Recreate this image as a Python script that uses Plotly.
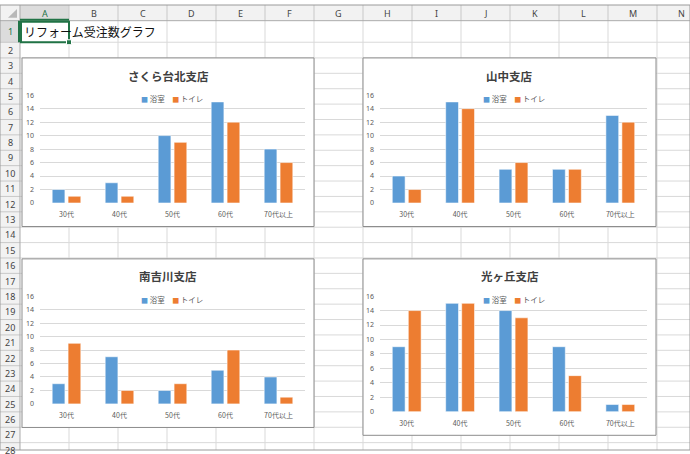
import plotly.graph_objects as go

# ---------------- data ----------------
sheet_title = "リフォーム受注数グラフ"
categories = ["30代", "40代", "50代", "60代", "70代以上"]
series_names = ["浴室", "トイレ"]
branch_names = ["さくら台北支店", "山中支店", "南吉川支店", "光ヶ丘支店"]

sakura_bath = [2, 3, 10, 15, 8]
sakura_toilet = [1, 1, 9, 12, 6]
yamanaka_bath = [4, 15, 5, 5, 13]
yamanaka_toilet = [2, 14, 6, 5, 12]
minami_bath = [3, 7, 2, 5, 4]
minami_toilet = [9, 2, 3, 8, 1]
hikari_bath = [9, 15, 14, 9, 1]
hikari_toilet = [14, 15, 13, 5, 1]

y_tick_values = [0, 2, 4, 6, 8, 10, 12, 14, 16]
column_letters = ["A", "B", "C", "D", "E", "F", "G", "H", "I", "J", "K", "L", "M", "N"]
row_numbers = list(range(1, 29))

# ---------------- styling / geometry ----------------
W, H = 690, 454
BLUE = "#5B9BD5"
ORANGE = "#ED7D31"
FONT = "Noto Sans CJK JP, Noto Sans, sans-serif"


def px(x):
    return x / W


def py(y):
    return 1 - y / H


# chart boxes (pixel): outer box, plot area, title y, legend y
chart_geo = [
    dict(box=(22, 54, 314, 226), plot=(40, 92, 305, 202), ty=72, ly=95),
    dict(box=(363, 54, 656, 226), plot=(380, 92, 647, 202), ty=72, ly=95),
    dict(box=(22, 259, 314, 431), plot=(40, 297, 305, 407), ty=276, ly=300),
    dict(box=(363, 259, 656, 439), plot=(380, 297, 647, 415), ty=276, ly=300),
]
series_by_chart = [
    (sakura_bath, sakura_toilet),
    (yamanaka_bath, yamanaka_toilet),
    (minami_bath, minami_toilet),
    (hikari_bath, hikari_toilet),
]

# spreadsheet grid geometry
HEADER_H = 16
ROWHDR_W = 20
COL_W = 49
row_edges = [HEADER_H, 38, 54]
while row_edges[-1] < H + 20:
    row_edges.append(row_edges[-1] + 15.7)
col_edges = [ROWHDR_W + COL_W * i for i in range(len(column_letters) + 1)]

fig = go.Figure()
shapes = []
annotations = []

# background of headers
shapes.append(dict(type="rect", xref="paper", yref="paper", layer="below",
                   x0=0, x1=1, y0=py(HEADER_H), y1=1, fillcolor="#F2F2F2", line_width=0))
shapes.append(dict(type="rect", xref="paper", yref="paper", layer="below",
                   x0=0, x1=px(ROWHDR_W), y0=0, y1=1, fillcolor="#F2F2F2", line_width=0))
# highlighted headers for A / 1
shapes.append(dict(type="rect", xref="paper", yref="paper", layer="below",
                   x0=px(col_edges[0]), x1=px(col_edges[1]), y0=py(HEADER_H), y1=1,
                   fillcolor="#DCDCDC", line_width=0))
shapes.append(dict(type="rect", xref="paper", yref="paper", layer="below",
                   x0=0, x1=px(ROWHDR_W), y0=py(row_edges[1]), y1=py(row_edges[0]),
                   fillcolor="#DCDCDC", line_width=0))

# cell grid lines
for x in col_edges[1:]:
    shapes.append(dict(type="line", xref="paper", yref="paper", layer="below",
                       x0=px(x), x1=px(x), y0=0, y1=py(HEADER_H),
                       line=dict(color="#D9D9D9", width=1)))
    shapes.append(dict(type="line", xref="paper", yref="paper", layer="below",
                       x0=px(x), x1=px(x), y0=py(HEADER_H), y1=1,
                       line=dict(color="#C8C8C8", width=1)))
for y in row_edges[1:]:
    shapes.append(dict(type="line", xref="paper", yref="paper", layer="below",
                       x0=px(ROWHDR_W), x1=1, y0=py(y), y1=py(y),
                       line=dict(color="#D9D9D9", width=1)))
    shapes.append(dict(type="line", xref="paper", yref="paper", layer="below",
                       x0=0, x1=px(ROWHDR_W), y0=py(y), y1=py(y),
                       line=dict(color="#C8C8C8", width=1)))
# header borders
shapes.append(dict(type="line", xref="paper", yref="paper", layer="below",
                   x0=0, x1=1, y0=py(HEADER_H), y1=py(HEADER_H),
                   line=dict(color="#ABABAB", width=1)))
shapes.append(dict(type="line", xref="paper", yref="paper", layer="below",
                   x0=px(ROWHDR_W), x1=px(ROWHDR_W), y0=0, y1=1,
                   line=dict(color="#ABABAB", width=1)))
# green accents for selected header
shapes.append(dict(type="line", xref="paper", yref="paper", layer="below",
                   x0=px(col_edges[0]), x1=px(col_edges[1]), y0=py(HEADER_H - 1), y1=py(HEADER_H - 1),
                   line=dict(color="#217346", width=2)))
shapes.append(dict(type="line", xref="paper", yref="paper", layer="below",
                   x0=px(ROWHDR_W - 1), x1=px(ROWHDR_W - 1), y0=py(row_edges[1]), y1=py(row_edges[0]),
                   line=dict(color="#217346", width=2)))
# corner triangle
shapes.append(dict(type="path", xref="paper", yref="paper", layer="below",
                   path=f"M {px(17)},{py(4)} L {px(17)},{py(13)} L {px(8)},{py(13)} Z",
                   fillcolor="#B8B8B8", line_width=0))

# selection rectangle around A1
shapes.append(dict(type="rect", xref="paper", yref="paper", layer="below",
                   x0=px(col_edges[0] + 1), x1=px(col_edges[1]), y0=py(row_edges[1]), y1=py(row_edges[0] + 1),
                   fillcolor="rgba(0,0,0,0)", line=dict(color="#217346", width=2)))
shapes.append(dict(type="rect", xref="paper", yref="paper", layer="below",
                   x0=px(col_edges[1] - 2.5), x1=px(col_edges[1] + 2.5),
                   y0=py(row_edges[1] + 2.5), y1=py(row_edges[1] - 2.5),
                   fillcolor="#217346", line=dict(color="#FFFFFF", width=1)))

# chart boxes
for g in chart_geo:
    x0, y0, x1, y1 = g["box"]
    shapes.append(dict(type="rect", xref="paper", yref="paper", layer="below",
                       x0=px(x0), x1=px(x1), y0=py(y1), y1=py(y0),
                       fillcolor="#FFFFFF", line=dict(color="#8C8C8C", width=1)))

# outer frame
shapes.append(dict(type="rect", xref="paper", yref="paper", layer="above",
                   x0=0, x1=1, y0=0, y1=1, fillcolor="rgba(0,0,0,0)",
                   line=dict(color="#9A9A9A", width=1)))

# header text
for i, letter in enumerate(column_letters):
    cx = (col_edges[i] + col_edges[i + 1]) / 2
    annotations.append(dict(xref="paper", yref="paper", x=px(cx), y=py(8.5), text=letter,
                            showarrow=False, xanchor="center", yanchor="middle",
                            font=dict(family="Noto Sans, sans-serif", size=9,
                                      color="#217346" if i == 0 else "#444444")))
for i, r in enumerate(row_numbers):
    if i + 1 >= len(row_edges):
        break
    cy = (row_edges[i] + row_edges[i + 1]) / 2
    annotations.append(dict(xref="paper", yref="paper", x=px(10), y=py(cy), text=str(r),
                            showarrow=False, xanchor="center", yanchor="middle",
                            font=dict(family="Noto Sans, sans-serif", size=9,
                                      color="#217346" if r == 1 else "#444444")))

# sheet title in A1
annotations.append(dict(xref="paper", yref="paper", x=px(22), y=py(27), text=sheet_title,
                        showarrow=False, xanchor="left", yanchor="middle",
                        font=dict(family=FONT, size=12, color="#111111")))

layout_axes = {}
for k, (g, name, (bath, toilet)) in enumerate(zip(chart_geo, branch_names, series_by_chart)):
    idx = "" if k == 0 else str(k + 1)
    xa, ya = "x" + idx, "y" + idx
    fig.add_trace(go.Bar(x=categories, y=bath, name=series_names[0], xaxis=xa, yaxis=ya,
                         marker=dict(color=BLUE, line=dict(color="rgba(255,255,255,0.55)", width=1)),
                         showlegend=False))
    fig.add_trace(go.Bar(x=categories, y=toilet, name=series_names[1], xaxis=xa, yaxis=ya,
                         marker=dict(color=ORANGE, line=dict(color="rgba(255,255,255,0.55)", width=1)),
                         showlegend=False))
    x0, y0, x1, y1 = g["plot"]
    layout_axes["xaxis" + idx] = dict(
        domain=[px(x0), px(x1)], anchor=ya, showgrid=False, zeroline=False, showline=False,
        ticks="", ticklabelstandoff=6, tickfont=dict(size=7, color="#595959", family=FONT),
        fixedrange=True)
    layout_axes["yaxis" + idx] = dict(
        domain=[py(y1), py(y0)], anchor=xa, range=[0, 16], tickvals=y_tick_values,
        showgrid=True, gridcolor="#D9D9D9", gridwidth=1, zeroline=False, showline=False,
        ticks="", ticklabelstandoff=5, tickfont=dict(size=7, color="#595959", family="Noto Sans, sans-serif"),
        fixedrange=True)
    bx0, by0, bx1, by1 = g["box"]
    cx = (bx0 + bx1) / 2
    annotations.append(dict(xref="paper", yref="paper", x=px(cx), y=py(g["ty"]),
                            text=f"<b>{name}</b>", showarrow=False, xanchor="center", yanchor="middle",
                            font=dict(family=FONT, size=11.5, color="#404040")))
    legend_text = (f"<span style='color:{BLUE};font-size:7px'>■</span> {series_names[0]}　"
                   f"<span style='color:{ORANGE};font-size:7px'>■</span> {series_names[1]}")
    annotations.append(dict(xref="paper", yref="paper", x=px(cx + 4), y=py(g["ly"]),
                            text=legend_text, showarrow=False, xanchor="center", yanchor="middle",
                            font=dict(family=FONT, size=7.5, color="#595959")))

fig.update_layout(
    width=W, height=H, margin=dict(l=0, r=0, t=0, b=0),
    paper_bgcolor="#FFFFFF", plot_bgcolor="rgba(0,0,0,0)",
    barmode="group", bargap=0.4, bargroupgap=0.2,
    font=dict(family=FONT),
    showlegend=False,
    hovermode=False,
    shapes=shapes, annotations=annotations,
    **layout_axes,
)

reset_page_css = (
    "document.documentElement.style.margin='0';"
    "document.documentElement.style.padding='0';"
    "document.body.style.margin='0';"
    "document.body.style.padding='0';"
    "document.body.style.overflow='hidden';"
    "var gd=document.getElementById('{plot_id}');"
    "if(gd&&gd.parentElement){gd.parentElement.style.margin='0';gd.parentElement.style.padding='0';}"
    "if(gd){gd.style.position='absolute';gd.style.left='0px';gd.style.top='0px';}"
)

fig.write_html("out.html", post_script=reset_page_css,
               config={"displayModeBar": False, "staticPlot": True})
